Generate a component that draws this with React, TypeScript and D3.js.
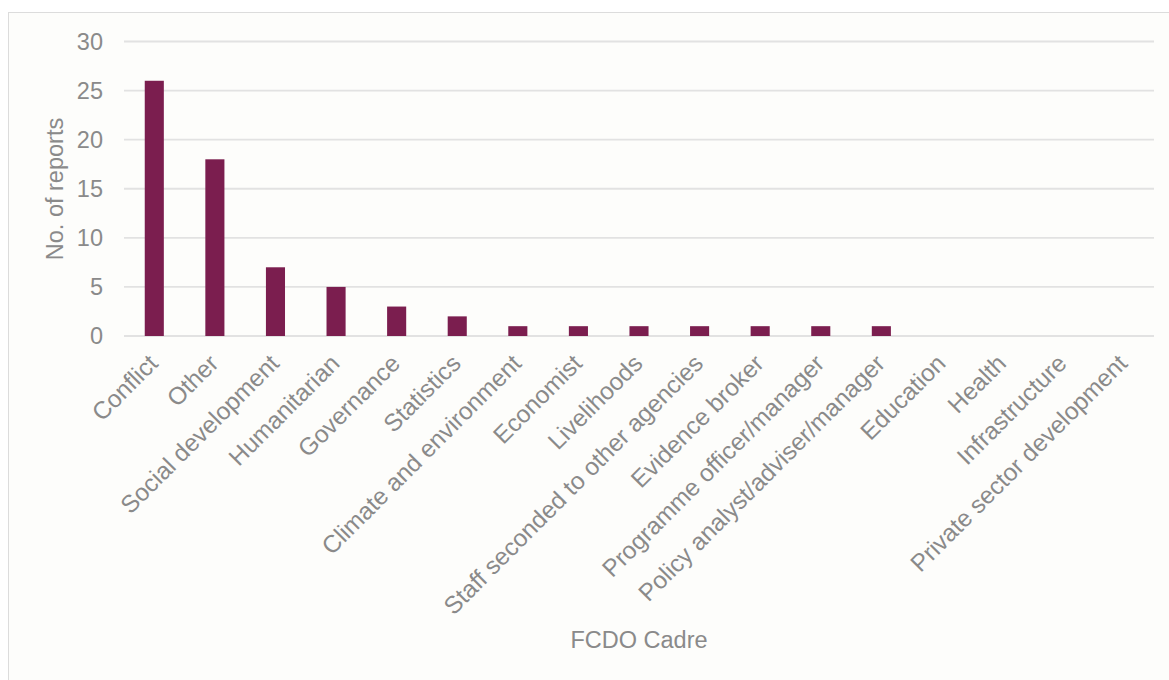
import React from "react";
import * as d3 from "d3";

const categories = [
  "Conflict",
  "Other",
  "Social development",
  "Humanitarian",
  "Governance",
  "Statistics",
  "Climate and environment",
  "Economist",
  "Livelihoods",
  "Staff seconded to other agencies",
  "Evidence broker",
  "Programme officer/manager",
  "Policy analyst/adviser/manager",
  "Education",
  "Health",
  "Infrastructure",
  "Private sector development",
];
const reports = [26, 18, 7, 5, 3, 2, 1, 1, 1, 1, 1, 1, 1, 0, 0, 0, 0];
const yTicks = [0, 5, 10, 15, 20, 25, 30];

const W = 1169;
const H = 680;
const left = 124;
const right = 1154;
const top = 41.5;
const bottom = 336;
const FONT = "'Liberation Sans', Arial, sans-serif";
const TXT = "#8a8a8a";

export default function App() {
  const x = d3
    .scaleBand<string>()
    .domain(categories)
    .range([left, right])
    .paddingInner(0.685)
    .paddingOuter(0.3425);
  const y = d3.scaleLinear().domain([0, 30]).range([bottom, top]);

  return (
    <svg
      width={W}
      height={H}
      style={{ position: "absolute", left: 0, top: 0, display: "block" }}
    >
      <rect x={0} y={0} width={W} height={H} fill="#ffffff" />
      <rect
        x={8.5}
        y={12.5}
        width={W + 20}
        height={H + 20}
        fill="#fdfdfb"
        stroke="#dcdcdc"
        strokeWidth={1}
      />
      {yTicks.map((t) => (
        <g key={t}>
          <line
            x1={left}
            x2={right}
            y1={y(t)}
            y2={y(t)}
            stroke="#e2e2e2"
            strokeWidth={1.8}
          />
          <text
            x={103}
            y={y(t)}
            dy="0.35em"
            textAnchor="end"
            fontFamily={FONT}
            fontSize={23.5}
            fill={TXT}
          >
            {t}
          </text>
        </g>
      ))}
      {categories.map((c, i) => (
        <rect
          key={c}
          x={x(c)!}
          y={y(reports[i])}
          width={x.bandwidth()}
          height={bottom - y(reports[i])}
          fill="#7b1e4f"
        />
      ))}
      {categories.map((c) => {
        const cx = x(c)! + x.bandwidth() / 2 + 5;
        const cy = bottom + 29;
        return (
          <text
            key={c}
            transform={`translate(${cx},${cy}) rotate(-45)`}
            textAnchor="end"
            fontFamily={FONT}
            fontSize={24.3}
            fill={TXT}
          >
            {c}
          </text>
        );
      })}
      <text
        transform={`translate(63,189) rotate(-90)`}
        textAnchor="middle"
        fontFamily={FONT}
        fontSize={23.5}
        fill={TXT}
      >
        No. of reports
      </text>
      <text
        x={639}
        y={648}
        textAnchor="middle"
        fontFamily={FONT}
        fontSize={23.5}
        fill={TXT}
      >
        FCDO Cadre
      </text>
    </svg>
  );
}
